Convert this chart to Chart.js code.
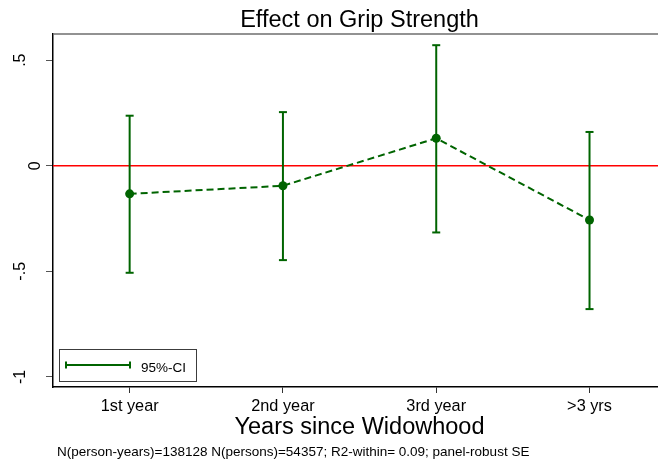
<!DOCTYPE html>
<html>
<head>
<meta charset="utf-8">
<script src="https://cdn.jsdelivr.net/npm/chart.js@4"></script>
<style>
  html, body { margin: 0; padding: 0; background: #fff; overflow: hidden; width: 658px; height: 467px; }
  /* plot region runs on past the right edge of the window */
  #wrap { width: 663px; height: 467px; position: relative; }
</style>
</head>
<body>
<div id="wrap"><canvas id="chart"></canvas></div>
<script>
// Point estimates and 95% confidence bounds by time since widowhood
const categories = ['1st year', '2nd year', '3rd year', '>3 yrs'];
const estimates = [-0.133, -0.095, 0.130, -0.257];
const ciLower = [-0.507, -0.447, -0.316, -0.679];
const ciUpper = [0.237, 0.254, 0.571, 0.160];
const yTickValues = [-1, -0.5, 0, 0.5];
const yTickLabels = ['-1', '-.5', '0', '.5'];
const titleText = 'Effect on Grip Strength';
const xTitleText = 'Years since Widowhood';
const noteText = 'N(person-years)=138128 N(persons)=54357; R2-within= 0.09; panel-robust SE';
const legendText = '95%-CI';

const GREEN = '#006400';
const FONT = '"Liberation Sans", Arial, Helvetica, sans-serif';

function seg(ctx, x1, y1, x2, y2) {
  ctx.beginPath();
  ctx.moveTo(x1, y1);
  ctx.lineTo(x2, y2);
  ctx.stroke();
}

// Frame, reference line, confidence intervals, texts and legend
const decor = {
  id: 'decor',
  beforeDatasetsDraw(chart) {
    const { ctx, chartArea: a, scales: { x, y } } = chart;
    ctx.save();
    // upper frame edge
    ctx.strokeStyle = '#6e6e6e';
    ctx.lineWidth = 1.5;
    seg(ctx, a.left, a.top, a.right, a.top);
    // zero reference line
    const y0 = y.getPixelForValue(0);
    ctx.strokeStyle = '#ff0000';
    ctx.lineWidth = 1.6;
    seg(ctx, a.left, y0, a.right, y0);
    // 95% confidence intervals
    ctx.strokeStyle = GREEN;
    ctx.lineWidth = 2;
    categories.forEach((c, i) => {
      const px = x.getPixelForValue(i);
      const yl = y.getPixelForValue(ciLower[i]);
      const yu = y.getPixelForValue(ciUpper[i]);
      seg(ctx, px, yl, px, yu);
      seg(ctx, px - 4, yl, px + 4, yl);
      seg(ctx, px - 4, yu, px + 4, yu);
    });
    ctx.restore();
  },
  afterDraw(chart) {
    const { ctx, chartArea: a, scales: { y } } = chart;
    ctx.save();
    ctx.fillStyle = '#000';
    ctx.textBaseline = 'alphabetic';
    ctx.textAlign = 'center';

    // title
    ctx.font = `23.5px ${FONT}`;
    ctx.fillText(titleText, 359.5, 27);

    // x axis title
    ctx.font = `23.5px ${FONT}`;
    ctx.fillText(xTitleText, 359.5, 434);

    // footnote
    ctx.font = `13.5px ${FONT}`;
    ctx.textAlign = 'left';
    ctx.fillText(noteText, 57, 456);

    // vertical y tick labels
    ctx.font = `16px ${FONT}`;
    ctx.textAlign = 'center';
    yTickValues.forEach((v, i) => {
      const py = y.getPixelForValue(v);
      const bx = v === 0 ? 40 : 25;
      ctx.save();
      ctx.translate(bx, py);
      ctx.rotate(-Math.PI / 2);
      ctx.fillText(yTickLabels[i], 0, 0);
      ctx.restore();
    });

    // legend
    const lx = a.left + 6, ly = 349, lw = 137, lh = 32;
    ctx.fillStyle = '#fff';
    ctx.fillRect(lx, ly, lw, lh);
    ctx.strokeStyle = '#3c3c3c';
    ctx.lineWidth = 1;
    ctx.strokeRect(lx + 0.5, ly + 0.5, lw, lh);
    ctx.strokeStyle = GREEN;
    ctx.lineWidth = 2;
    const my = ly + 16;
    seg(ctx, lx + 7, my, lx + 71, my);
    seg(ctx, lx + 7, my - 3.5, lx + 7, my + 3.5);
    seg(ctx, lx + 71, my - 3.5, lx + 71, my + 3.5);
    ctx.fillStyle = '#000';
    ctx.font = `13.5px ${FONT}`;
    ctx.textAlign = 'left';
    ctx.fillText(legendText, lx + 82, ly + 22.5);
    ctx.restore();
  }
};

new Chart(document.getElementById('chart'), {
  type: 'line',
  data: {
    datasets: [{
      data: estimates.map((v, i) => ({ x: i, y: v })),
      borderColor: GREEN,
      backgroundColor: GREEN,
      borderWidth: 2,
      borderDash: [7, 4],
      pointRadius: 4.5,
      pointHoverRadius: 4.5,
      pointBackgroundColor: GREEN,
      pointBorderColor: GREEN,
      pointBorderWidth: 0,
      tension: 0,
      fill: false
    }]
  },
  options: {
    responsive: true,
    maintainAspectRatio: false,
    animation: false,
    events: [],
    layout: { padding: { top: 34, right: 0, bottom: 0, left: 0 } },
    plugins: {
      legend: { display: false },
      title: { display: false },
      tooltip: { enabled: false }
    },
    scales: {
      x: {
        type: 'linear',
        min: -0.5,
        max: 3.45,
        afterBuildTicks: s => { s.ticks = categories.map((c, i) => ({ value: i })); },
        afterFit: s => { s.height = 80; s.paddingLeft = 0; s.paddingRight = 0; },
        ticks: {
          autoSkip: false,
          maxRotation: 0,
          minRotation: 0,
          padding: 4,
          color: '#000',
          font: { family: FONT, size: 16.3 },
          callback: v => categories[v]
        },
        grid: {
          drawOnChartArea: false,
          drawTicks: true,
          tickLength: 6,
          color: '#333',
          lineWidth: 1
        },
        border: { display: true, color: '#000', width: 1.5 }
      },
      y: {
        type: 'linear',
        min: -1.048,
        max: 0.624,
        afterBuildTicks: s => { s.ticks = yTickValues.map(v => ({ value: v })); },
        afterFit: s => { s.width = 53; s.paddingTop = 0; s.paddingBottom = 0; },
        ticks: { display: false },
        grid: {
          drawOnChartArea: false,
          drawTicks: true,
          tickLength: 7,
          color: '#555',
          lineWidth: 1
        },
        border: { display: true, color: '#000', width: 1.5 }
      }
    }
  },
  plugins: [decor]
});
</script>
</body>
</html>
